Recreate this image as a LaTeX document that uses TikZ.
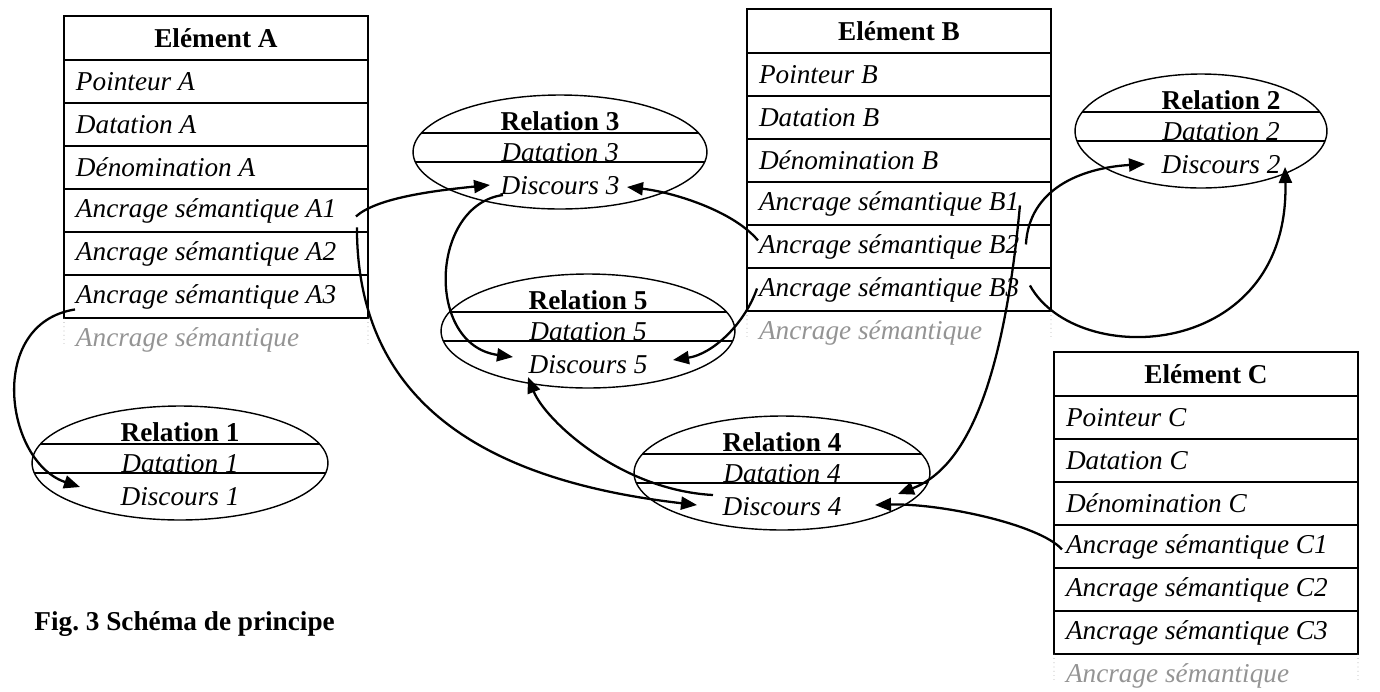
\documentclass[tikz,border=0pt]{standalone}
\usepackage{fontspec}
\setmainfont{Liberation Serif}
\usetikzlibrary{arrows.meta,calc,positioning,shapes.geometric}
\definecolor{moregray}{gray}{0.58}
\frenchspacing

\tikzset{
  cell/.style={draw, line width=1pt, outer sep=0pt, inner xsep=0.24cm, inner ysep=0pt,
    text width=5.6cm, minimum height=0.86cm, align=flush left, font=\itshape},
  headcell/.style={cell, minimum height=0.88cm, align=flush center, font=\bfseries},
  morecell/.style={cell, draw=none, text=moregray},
  relation/.style={draw, ellipse, line width=0.8pt, inner sep=0pt, minimum height=2.28cm},
  link/.style={-{Triangle[length=0.32cm, width=0.26cm]}, line width=1.3pt},
}

\begin{document}
\begin{tikzpicture}[x=0.02cm, y=-0.02cm]
    \fontsize{15.5}{18}\selectfont
    \useasboundingbox (0,0) rectangle (1380,691);

    % Element A
    \node[headcell, anchor=north west] (a0) at (64,16) {Elément A};
    \node[cell, below=0pt of a0] (a1) {Pointeur A};
    \node[cell, below=0pt of a1] (a2) {Datation A};
    \node[cell, below=0pt of a2] (a3) {Dénomination A};
    \node[cell, below=0pt of a3] (a4) {Ancrage sémantique A1};
    \node[cell, below=0pt of a4] (a5) {Ancrage sémantique A2};
    \node[cell, below=0pt of a5] (a6) {Ancrage sémantique A3};
    \node[morecell, below=0pt of a6] (ax) {Ancrage sémantique};
    \draw[dotted, moregray] (ax.north west) -- ($(ax.north west)!0.65!(ax.south west)$);
    \draw[dotted, moregray] (ax.north east) -- ($(ax.north east)!0.65!(ax.south east)$);

    % Element B
    \node[headcell, anchor=north west] (b0) at (747,9) {Elément B};
    \node[cell, below=0pt of b0] (b1) {Pointeur B};
    \node[cell, below=0pt of b1] (b2) {Datation B};
    \node[cell, below=0pt of b2] (b3) {Dénomination B};
    \node[cell, below=0pt of b3] (b4) {Ancrage sémantique B1};
    \node[cell, below=0pt of b4] (b5) {Ancrage sémantique B2};
    \node[cell, below=0pt of b5] (b6) {Ancrage sémantique B3};
    \node[morecell, below=0pt of b6] (bx) {Ancrage sémantique};
    \draw[dotted, moregray] (bx.north west) -- ($(bx.north west)!0.65!(bx.south west)$);
    \draw[dotted, moregray] (bx.north east) -- ($(bx.north east)!0.65!(bx.south east)$);

    % Element C
    \node[headcell, anchor=north west] (c0) at (1054,352) {Elément C};
    \node[cell, below=0pt of c0] (c1) {Pointeur C};
    \node[cell, below=0pt of c1] (c2) {Datation C};
    \node[cell, below=0pt of c2] (c3) {Dénomination C};
    \node[cell, below=0pt of c3] (c4) {Ancrage sémantique C1};
    \node[cell, below=0pt of c4] (c5) {Ancrage sémantique C2};
    \node[cell, below=0pt of c5] (c6) {Ancrage sémantique C3};
    \node[morecell, below=0pt of c6] (cx) {Ancrage sémantique};
    \draw[dotted, moregray] (cx.north west) -- ($(cx.north west)!0.65!(cx.south west)$);
    \draw[dotted, moregray] (cx.north east) -- ($(cx.north east)!0.65!(cx.south east)$);

    % relations (number / centre / x radius / text shift)
    \foreach \n/\px/\py/\rx/\tx in {1/180/463/148/0, 2/1201/131/126/20, 3/560/152/147/0, 4/782/473/148/0, 5/588/331/147/0} {
        \pgfmathsetmacro\mw{\rx*0.04}
        \pgfmathsetmacro\ha{\rx*0.943}
        \pgfmathsetmacro\hb{\rx*0.984}
        \node[relation, minimum width=\mw cm] (r\n) at (\px,\py) {};
        \draw[line width=0.8pt] ($(r\n.center)+(-\ha,-19)$) -- ($(r\n.center)+(\ha,-19)$);
        \draw[line width=0.8pt] ($(r\n.center)+(-\hb,10)$) -- ($(r\n.center)+(\hb,10)$);
        \node[anchor=base, font=\bfseries] (t\n) at ($(r\n.center)+(\tx,-22)$) {Relation \n};
        \node[anchor=base, font=\itshape] (da\n) at ($(r\n.center)+(\tx,9)$) {Datation \n};
        \node[anchor=base, font=\itshape] (di\n) at ($(r\n.center)+(\tx,42)$) {Discours \n};
    }

    % links
    \draw[link] ($(a4.east)+(-12,6)$) .. controls +(20,-18) and +(-60,6) .. ($(r3.center)+(-70,33)$);
    \draw[link] ($(a4.east)+(-11,17)$) .. controls +(0,172) and +(-217,-25) .. ($(r4.center)+(-85,32)$);
    \draw[link] ($(a6.west)+(11,13)$) .. controls +(-89,14) and +(-75,-25) .. ($(r1.center)+(-100,24)$);
    \draw[link] ($(b5.west)+(11,-6)$) .. controls +(-25,-30) and +(45,5) .. ($(r3.center)+(67,35)$);
    \draw[link] ($(r3.center)+(-57,43)$) .. controls +(-73,10) and +(-88,-12) .. ($(r5.center)+(-75,26)$);
    \draw[link] ($(b6.west)+(10,-1)$) .. controls +(-12,35) and +(40,-6) .. ($(r5.center)+(85,29)$);
    \draw[link] ($(r4.center)+(-69,22)$) .. controls +(-93,-5) and +(17,43) .. ($(r5.center)+(-60,46)$);
    \draw[link] ($(b4.east)+(-31,2)$) .. controls +(-18,195) and +(62,-24) .. ($(r4.center)+(116,21)$);
    \draw[link] ($(b5.east)+(-25,-2)$) .. controls +(3,-55) and +(-65,4) .. ($(r2.center)+(-56,33)$);
    \draw[link] ($(b6.east)+(-21,-4)$) .. controls +(47,85) and +(5,193) .. ($(r2.center)+(84,36)$);
    \draw[link] ($(c4.west)+(8,3)$) .. controls +(-22,-25) and +(65,-2) .. ($(r4.center)+(93,32)$);

    \node[anchor=base west, font=\bfseries] (cap) at (25,630) {Fig. 3 Schéma de principe};
\end{tikzpicture}
\end{document}
